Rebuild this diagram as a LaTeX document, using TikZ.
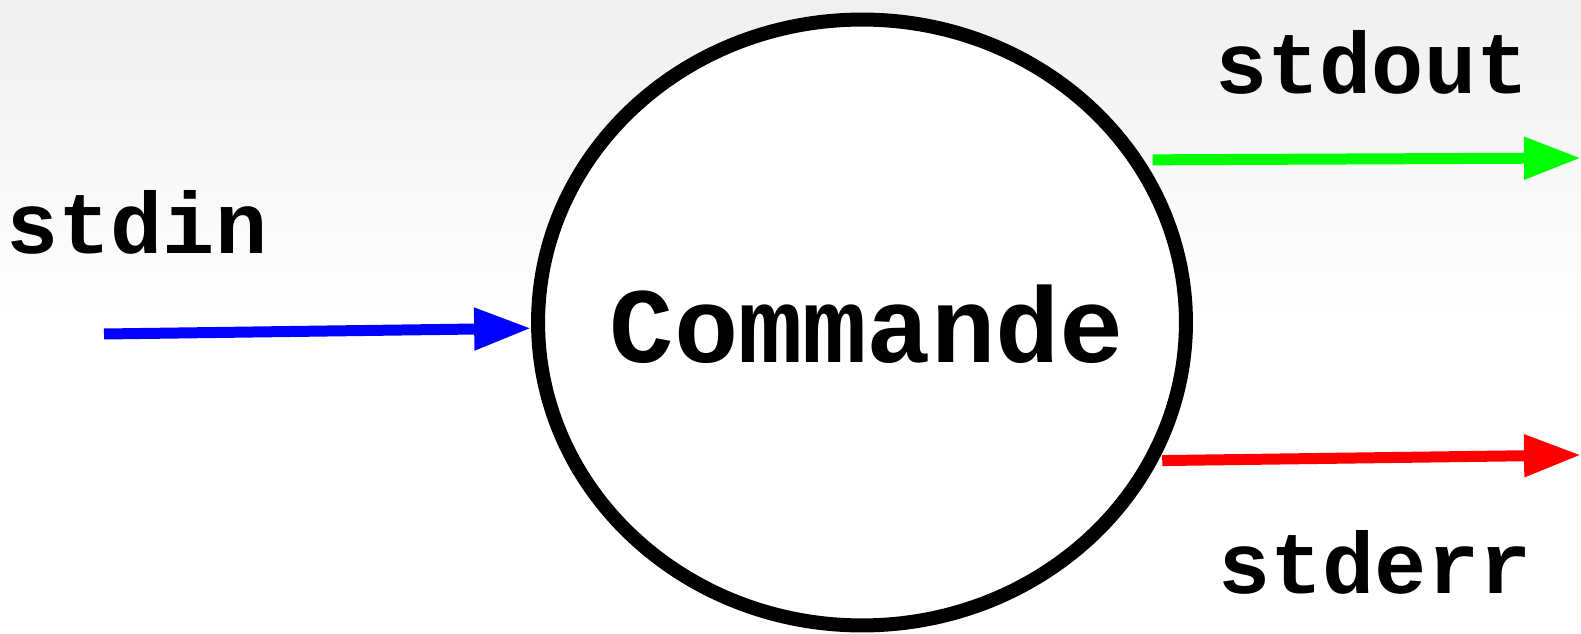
\documentclass[tikz,border=0pt]{standalone}
\usepackage{fontspec}
\setmonofont{Liberation Mono}
\usetikzlibrary{arrows.meta,shapes.geometric}

\begin{document}
\begin{tikzpicture}[
    x=0.02cm, y=-0.02cm,
    font=\ttfamily\bfseries\fontsize{49.5}{52}\selectfont,
    proc/.style={draw, ellipse, fill=white, line width=0.28cm, inner sep=0pt,
                 minimum width=12.96cm, minimum height=12.12cm},
    stream/.style={anchor=base west, inner sep=0pt},
    pipe/.style={-{Triangle[length=1.14cm,width=0.8cm]}, line width=0.22cm}
  ]
  \useasboundingbox (0,0) rectangle (1581,634);
  \fill[top color=gray!12, bottom color=white] (0,0) rectangle (1581,320);
  \node[proc] (cmd) at (862,322.5) {};
  \node[font=\ttfamily\bfseries\fontsize{61}{63}\selectfont] (cmdLbl) at (867,324) {Commande};
  \node[stream] (lblIn) at (6,254) {stdin};
  \node[stream] (lblOut) at (1215,94) {stdout};
  \node[stream] (lblErr) at (1218,593) {stderr};
  \coordinate (inA) at (104,334);
  \coordinate (outA) at (1581,158);
  \coordinate (errA) at (1581,455);
  \draw[pipe, blue] (inA) -- (cmd.181.5);
  \draw[pipe, green, shorten <=0.18cm] (cmd.30) -- (outA);
  \draw[pipe, red, shorten <=0.08cm] (cmd.-25) -- (errA);
\end{tikzpicture}
\end{document}
